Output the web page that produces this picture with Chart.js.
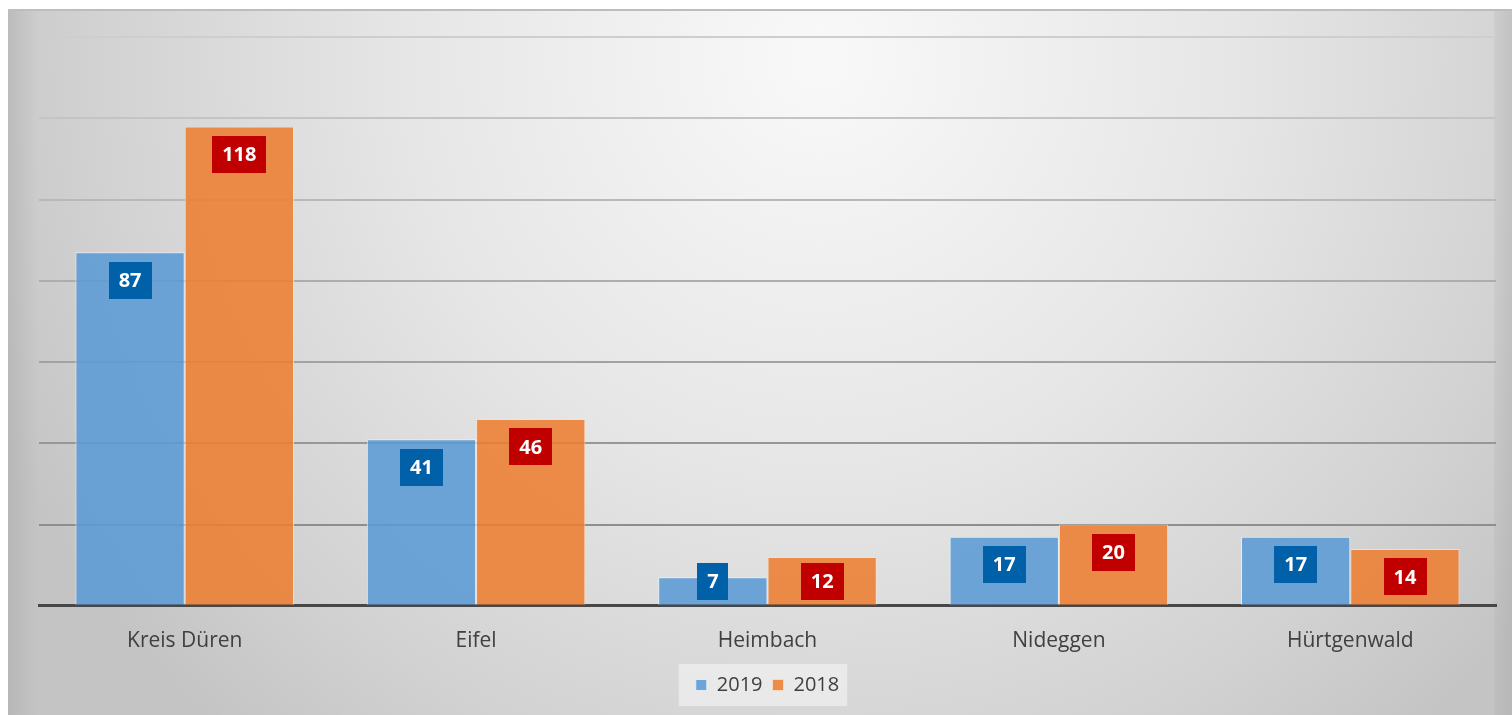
<!DOCTYPE html>
<html>
<head>
<meta charset="utf-8">
<script src="https://cdn.jsdelivr.net/npm/chart.js@4"></script>
<style>
html,body{margin:0;padding:0;background:#fff;}
#wrap{width:1512px;height:715px;position:relative;}
</style>
</head>
<body>
<div id="wrap"><canvas id="c" width="1512" height="715"></canvas></div>
<script>
const categories = ['Kreis Düren', 'Eifel', 'Heimbach', 'Nideggen', 'Hürtgenwald'];
const values2019 = [87, 41, 7, 17, 17];
const values2018 = [118, 46, 12, 20, 14];
const seriesLabels = ['2019', '2018'];
const yMax = 140;
const yStep = 20;

const FONT = '"Open Sans", "DejaVu Sans", sans-serif';

const bgPlugin = {
  id: 'bgPanel',
  beforeDraw(chart) {
    const ctx = chart.ctx;
    const W = chart.width, H = chart.height;
    ctx.save();
    ctx.fillStyle = '#ffffff';
    ctx.fillRect(0, 0, W, H);
    const x0 = 8, y0 = 10, w = W - x0, h = H - y0;
    const g = ctx.createRadialGradient(820, 60, 20, 820, 60, 900);
    g.addColorStop(0, '#f8f8f8');
    g.addColorStop(0.45, '#e6e6e6');
    g.addColorStop(0.8, '#d2d2d2');
    g.addColorStop(1, '#c4c4c4');
    ctx.fillStyle = g;
    ctx.fillRect(x0, y0, w, h);
    const gl = ctx.createLinearGradient(x0, 0, x0 + 30, 0);
    gl.addColorStop(0, 'rgba(160,160,160,0.35)');
    gl.addColorStop(1, 'rgba(160,160,160,0)');
    ctx.fillStyle = gl;
    ctx.fillRect(x0, y0, 30, h);
    const gr = ctx.createLinearGradient(W - 18, 0, W, 0);
    gr.addColorStop(0, 'rgba(160,160,160,0.15)');
    gr.addColorStop(1, 'rgba(160,160,160,0.35)');
    ctx.fillStyle = gr;
    ctx.fillRect(W - 18, y0, 18, h);
    ctx.fillStyle = '#bdbdbd';
    ctx.fillRect(x0, y0 - 1, w, 2);
    const lg = chart.legend;
    if (lg && lg.legendHitBoxes && lg.legendHitBoxes.length) {
      let minX = Infinity, maxX = -Infinity, minY = Infinity, maxY = -Infinity;
      lg.legendHitBoxes.forEach(b => {
        minX = Math.min(minX, b.left); maxX = Math.max(maxX, b.left + b.width);
        minY = Math.min(minY, b.top); maxY = Math.max(maxY, b.top + b.height);
      });
      ctx.fillStyle = 'rgba(235,235,235,0.9)';
      ctx.fillRect(minX - 17, (minY + maxY) / 2 - 21, (maxX - minX) + 25, 42);
    }
    ctx.restore();
  }
};

const labelPlugin = {
  id: 'boxLabels',
  afterDatasetsDraw(chart) {
    const ctx = chart.ctx;
    const base = chart.scales.y.getPixelForValue(0);
    const boxColors = ['#0060a8', '#c00000'];
    ctx.save();
    ctx.font = 'bold 20px ' + FONT;
    ctx.textAlign = 'center';
    ctx.textBaseline = 'middle';
    chart.data.datasets.forEach((ds, di) => {
      const meta = chart.getDatasetMeta(di);
      meta.data.forEach((bar, i) => {
        const txt = String(ds.data[i]);
        const tw = ctx.measureText(txt).width;
        const bw = Math.max(30, tw + 20);
        const bh = 37;
        const cy = Math.min(bar.y + 28, base - 24.5);
        ctx.fillStyle = boxColors[di];
        ctx.fillRect(Math.round(bar.x - bw / 2), Math.round(cy - bh / 2), Math.round(bw), bh);
        ctx.fillStyle = '#ffffff';
        ctx.fillText(txt, bar.x, cy + 1);
      });
    });
    ctx.restore();
  }
};

const gridColors = {0: 'rgba(0,0,0,0)', 20: '#8e8e8e', 40: '#979797', 60: '#a2a2a2', 80: '#adadad', 100: '#b8b8b8', 120: '#c4c4c4', 140: '#cecece'};

new Chart(document.getElementById('c'), {
  type: 'bar',
  data: {
    labels: categories,
    datasets: [
      {
        label: seriesLabels[0],
        data: values2019,
        backgroundColor: 'rgba(91,155,213,0.88)',
        borderColor: 'rgba(235,242,250,0.8)',
        borderWidth: 1,
        borderSkipped: 'bottom'
      },
      {
        label: seriesLabels[1],
        data: values2018,
        backgroundColor: 'rgba(237,125,49,0.88)',
        borderColor: 'rgba(250,225,205,0.8)',
        borderWidth: 1,
        borderSkipped: 'bottom'
      }
    ]
  },
  options: {
    responsive: false,
    animation: false,
    layout: { padding: { left: 39, right: 16, top: 37, bottom: 10 } },
    datasets: { bar: { categoryPercentage: 0.75, barPercentage: 1.0 } },
    scales: {
      x: {
        grid: { display: false, drawTicks: false },
        border: { display: true, color: '#474747', width: 3 },
        ticks: { color: '#404040', font: { family: FONT, size: 21 }, padding: 23 },
        afterFit: (scale) => { scale.height -= 12; }
      },
      y: {
        min: 0, max: yMax,
        ticks: { display: false, stepSize: yStep },
        border: { display: false },
        grid: {
          drawTicks: false,
          lineWidth: 2,
          color: (c) => gridColors[c.tick ? c.tick.value : 0] || '#bbbbbb'
        }
      }
    },
    plugins: {
      tooltip: { enabled: false },
      legend: {
        position: 'bottom',
        labels: {
          color: '#404040',
          font: { family: FONT, size: 20 },
          boxWidth: 11,
          boxHeight: 11,
          padding: 10
        }
      }
    }
  },
  plugins: [bgPlugin, labelPlugin]
});
</script>
</body>
</html>
